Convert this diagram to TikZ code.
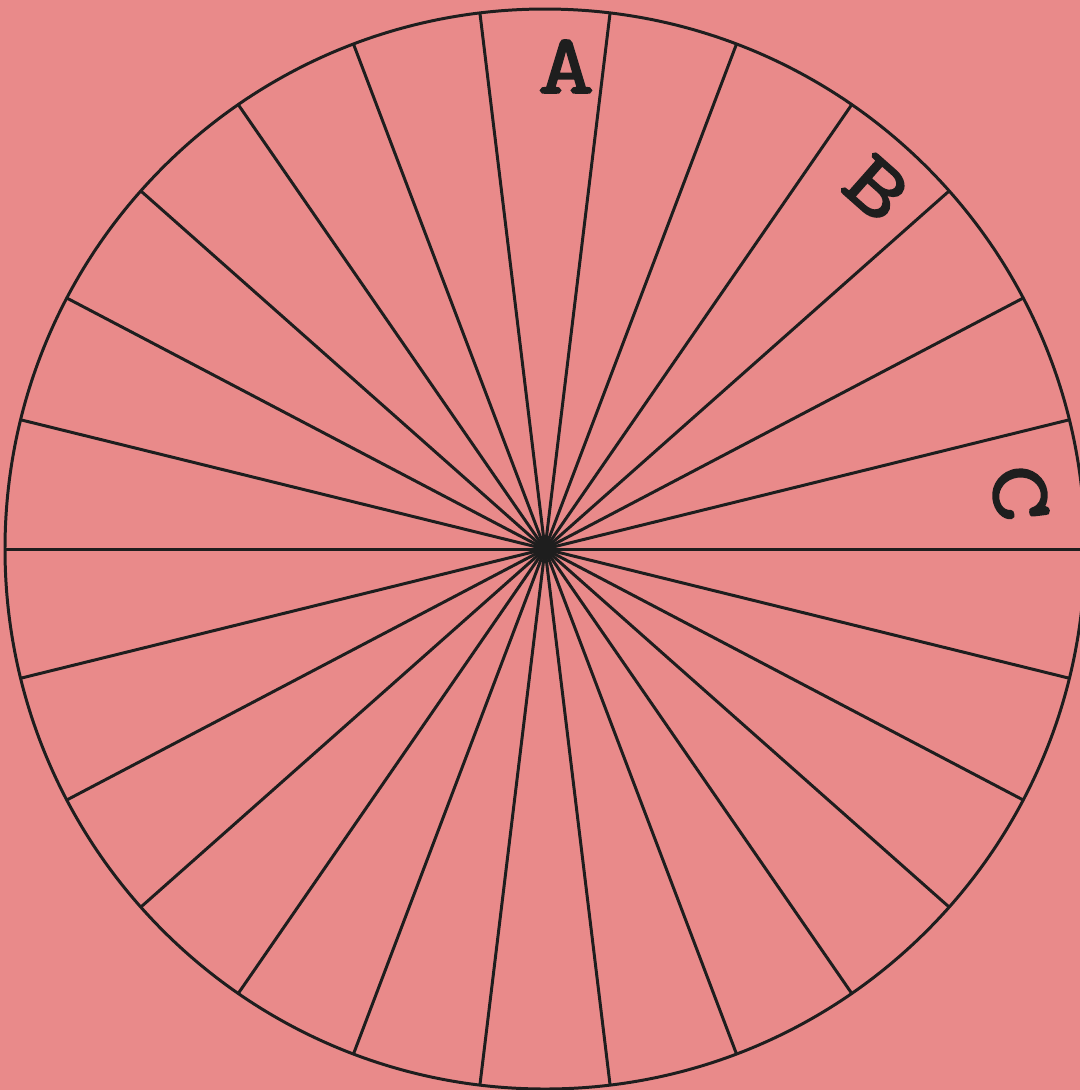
\documentclass[tikz,border=0pt]{standalone}
\usepackage{fontspec}
\newfontfamily\wheelfont[FakeBold=2.4,FakeStretch=1.3]{Latin Modern Mono}
\usetikzlibrary{calc}
\definecolor{paper}{HTML}{E98A8A}
\definecolor{ink}{HTML}{1E1E1E}
\tikzset{
  spoke/.style={draw=ink, line width=0.85pt},
  rim/.style={draw=ink, line width=0.85pt},
  letter/.style={font=\wheelfont\fontsize{24}{24}\selectfont, text=ink, inner sep=0pt}
}
\begin{document}
\begin{tikzpicture}[x=1cm,y=1cm]
  \useasboundingbox (0,0) rectangle (10.8,-10.9);
  \fill[paper] (0,0) rectangle (10.8,-10.9);
  \clip (0,0) rectangle (10.8,-10.9);
  \coordinate (hub) at (5.45,-5.49);

  % wheel
  \foreach \k in {0,...,25}
    \draw[spoke] (hub) -- ($(hub)+({\k*360/26}:5.40)$);
  \draw[rim] (hub) circle (5.40);

  % letters
  \node[letter] (labA) at ($(hub)+(87.5:4.83)$) {A};
  \node[letter, rotate=-41.5] (labB) at ($(hub)+(47.4:4.90)$) {B};
  \node[letter, rotate=-83.1] (labC) at ($(hub)+(6.7:4.78)$) {C};
\end{tikzpicture}
\end{document}
